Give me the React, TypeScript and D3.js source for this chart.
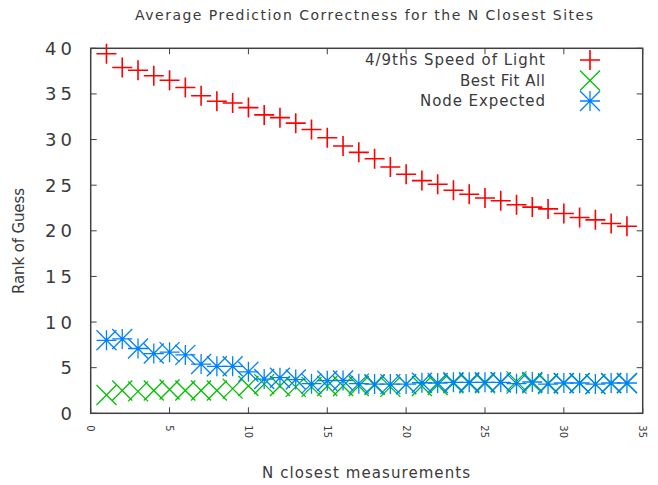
import React from 'react';
import * as d3 from 'd3';

const nClosest = [1,2,3,4,5,6,7,8,9,10,11,12,13,14,15,16,17,18,19,20,21,22,23,24,25,26,27,28,29,30,31,32,33,34];
const speedOfLight = [39.4,37.9,37.6,37.0,36.5,35.7,34.8,34.2,34.0,33.5,32.7,32.4,31.8,31.1,30.2,29.3,28.6,27.9,27.0,26.2,25.5,25.1,24.45,24.0,23.6,23.3,22.85,22.6,22.4,21.9,21.45,21.2,20.8,20.5];
const bestFitAll = [2.0,2.5,2.4,2.5,2.6,2.5,2.5,2.5,2.7,3.0,3.2,3.0,2.9,2.9,3.0,3.0,3.0,3.1,2.9,3.2,3.0,3.1,3.3,3.3,3.3,3.4,3.5,3.3,3.3,3.3,3.3,3.2,3.3,3.3];
const nodeExpected = [8.0,8.15,7.1,6.55,6.7,6.4,5.4,5.15,5.15,4.55,3.75,3.9,3.7,3.25,3.57,3.6,3.25,3.2,3.2,3.2,3.35,3.32,3.4,3.4,3.4,3.4,3.25,3.43,3.2,3.32,3.32,3.2,3.32,3.32];
const yTicks = [0,5,10,15,20,25,30,35,40];
const xTicks = [0,5,10,15,20,25,30,35];
const seriesNames = ['4/9ths Speed of Light', 'Best Fit All', 'Node Expected'];
const seriesColors = ['#ff0000', '#00c000', '#0080ff'];

const FONT = '"DejaVu Sans", sans-serif';
const TEXT = '#3a3a3a';
const M = 10; // half marker size

function Marker({ kind, x, y, color }: { kind: number; x: number; y: number; color: string }) {
  const plus = `M${x - M},${y}H${x + M}M${x},${y - M}V${y + M}`;
  const cross = `M${x - M},${y - M}L${x + M},${y + M}M${x - M},${y + M}L${x + M},${y - M}`;
  const d = kind === 0 ? plus : kind === 1 ? cross : plus + cross;
  return <path d={d} stroke={color} strokeWidth={kind === 0 ? 1.6 : 1.3} fill="none" />;
}

export default function App() {
  const x = d3.scaleLinear().domain([0, 35]).range([90.7, 642.7]);
  const y = d3.scaleLinear().domain([0, 40]).range([413.3, 48.3]);
  const series = [speedOfLight, bestFitAll, nodeExpected];
  const [x0, x1] = x.range();
  const [y0, y1] = y.range();
  const tickLen = 6;
  const axisColor = '#404040';
  const legendLens = [180, 85, 125];
  return (
    <svg width={658} height={485} style={{ position: 'absolute', left: 0, top: 0, background: '#fff' }}>
      <rect x={0} y={0} width={658} height={485} fill="#fff" />
      <text x={135} y={20} textLength={458} lengthAdjust="spacing" fontFamily={FONT} fontSize={14} fill={TEXT}>
        Average Prediction Correctness for the N Closest Sites
      </text>
      {yTicks.map((t) => (
        <g key={'y' + t}>
          <line x1={x0} x2={x0 + tickLen} y1={y(t)} y2={y(t)} stroke={axisColor} />
          <line x1={x1} x2={x1 - tickLen} y1={y(t)} y2={y(t)} stroke={axisColor} />
          {t >= 10 ? (
            <text x={45} y={y(t)} dy="0.36em" textLength={27} lengthAdjust="spacing" fontFamily={FONT} fontSize={18} fill={TEXT}>{t}</text>
          ) : (
            <text x={72} y={y(t)} dy="0.36em" textAnchor="end" fontFamily={FONT} fontSize={18} fill={TEXT}>{t}</text>
          )}
        </g>
      ))}
      {xTicks.map((t) => (
        <g key={'x' + t}>
          <line x1={x(t)} x2={x(t)} y1={y0} y2={y0 - tickLen} stroke={axisColor} />
          <line x1={x(t)} x2={x(t)} y1={y1} y2={y1 + tickLen} stroke={axisColor} />
          <text transform={`translate(${x(t)},${y0 + 12}) rotate(90)`} dy="0.35em" textAnchor="start" fontFamily={FONT} fontSize={10} fill={TEXT}>{t}</text>
        </g>
      ))}
      <rect x={x0} y={y1} width={x1 - x0} height={y0 - y1} fill="none" stroke={axisColor} strokeWidth={1.5} />
      <text transform={`translate(24,${241}) rotate(-90)`} textAnchor="middle" textLength={106} lengthAdjust="spacing" fontFamily={FONT} fontSize={15} fill={TEXT}>Rank of Guess</text>
      <text x={262} y={478} textLength={208} lengthAdjust="spacing" fontFamily={FONT} fontSize={15} fill={TEXT}>N closest measurements</text>
      {series.map((vals, si) => (
        <g key={'s' + si}>
          {vals.map((v, i) => (
            <Marker key={i} kind={si} x={x(nClosest[i])} y={y(v)} color={seriesColors[si]} />
          ))}
        </g>
      ))}
      {seriesNames.map((name, i) => (
        <g key={'l' + i}>
          <text x={545 - legendLens[i]} y={60 + i * 20.5} dy="0.36em" textLength={legendLens[i]} lengthAdjust="spacing" fontFamily={FONT} fontSize={15} fill={TEXT}>{name}</text>
          <Marker kind={i} x={590} y={60 + i * 20.5} color={seriesColors[i]} />
        </g>
      ))}
    </svg>
  );
}
